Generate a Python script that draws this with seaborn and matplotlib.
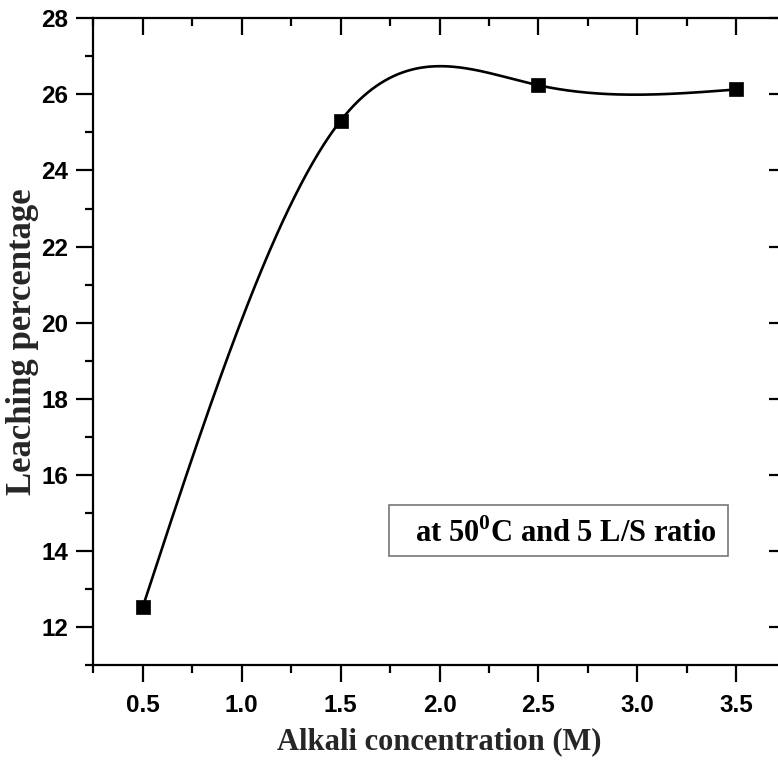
import numpy as np
import pandas as pd
import matplotlib
matplotlib.use("Agg")
import matplotlib.pyplot as plt
from matplotlib.patches import Rectangle
from matplotlib.ticker import MultipleLocator
import seaborn as sns

# Data
concentration = [0.5, 1.5, 2.5, 3.5]
leaching = [12.53, 25.31, 26.24, 26.13]
x_ticks = [0.5, 1.0, 1.5, 2.0, 2.5, 3.0, 3.5]
y_ticks = [12, 14, 16, 18, 20, 22, 24, 26, 28]
x_label = "Alkali concentration (M)"
y_label = "Leaching percentage"
note = r"at 50$^{\mathbf{0}}$C and 5 L/S ratio"

sns.set_theme(style="white")
plt.rcParams["font.family"] = ["Liberation Sans", "DejaVu Sans"]
plt.rcParams["mathtext.fontset"] = "custom"
plt.rcParams["mathtext.rm"] = "Liberation Serif:bold"
plt.rcParams["mathtext.bf"] = "Liberation Serif:bold"


def natural_spline(x, y, n=400):
    x = np.asarray(x, float)
    y = np.asarray(y, float)
    k = len(x)
    h = np.diff(x)
    A = np.zeros((k, k))
    b = np.zeros(k)
    A[0, 0] = 1
    A[-1, -1] = 1
    for i in range(1, k - 1):
        A[i, i - 1] = h[i - 1]
        A[i, i] = 2 * (h[i - 1] + h[i])
        A[i, i + 1] = h[i]
        b[i] = 6 * ((y[i + 1] - y[i]) / h[i] - (y[i] - y[i - 1]) / h[i - 1])
    M = np.linalg.solve(A, b)
    xs = np.linspace(x[0], x[-1], n)
    idx = np.clip(np.searchsorted(x, xs) - 1, 0, k - 2)
    x0, x1 = x[idx], x[idx + 1]
    hh = x1 - x0
    t1 = x1 - xs
    t0 = xs - x0
    ys = (M[idx] * t1 ** 3 / (6 * hh) + M[idx + 1] * t0 ** 3 / (6 * hh)
          + (y[idx] / hh - M[idx] * hh / 6) * t1
          + (y[idx + 1] / hh - M[idx + 1] * hh / 6) * t0)
    return xs, ys


fig = plt.figure(figsize=(7.78, 7.73), dpi=100)
ax = fig.add_axes([0.12, 0.1397, 0.890, 0.8366])

xs, ys = natural_spline(concentration, leaching)
curve = pd.DataFrame({"x": xs, "y": ys})
points = pd.DataFrame({"x": concentration, "y": leaching})

sns.lineplot(data=curve, x="x", y="y", ax=ax, color="black", linewidth=1.9, sort=False)
sns.scatterplot(data=points, x="x", y="y", ax=ax, color="black", marker="s",
                s=95, edgecolor="black", linewidth=0.5, zorder=5)

ax.set_xlim(0.25, 3.75)
ax.set_ylim(11, 28)
ax.set_xticks(x_ticks)
ax.set_xticklabels([f"{v:.1f}" for v in x_ticks])
ax.set_yticks(y_ticks)
ax.set_yticklabels([str(v) for v in y_ticks])
ax.xaxis.set_minor_locator(MultipleLocator(0.25))
ax.yaxis.set_minor_locator(MultipleLocator(1))

for sp in ax.spines.values():
    sp.set_color("black")
    sp.set_linewidth(1.6)

ax.tick_params(axis="both", which="major", length=12, width=1.6, color="black",
               labelsize=17.5, labelcolor="black")
ax.tick_params(axis="both", which="minor", length=6, width=1.6, color="black")
ax.tick_params(axis="x", which="both", direction="out", bottom=True, top=True, pad=9)
ax.tick_params(axis="y", which="both", direction="out", left=True, right=True, pad=6)
# top and right ticks point inward
for t in ax.xaxis.get_major_ticks() + ax.xaxis.get_minor_ticks():
    t.tick2line.set_marker(matplotlib.lines.TICKDOWN)
for t in ax.yaxis.get_major_ticks() + ax.yaxis.get_minor_ticks():
    t.tick2line.set_marker(matplotlib.lines.TICKLEFT)
for lab in ax.get_xticklabels() + ax.get_yticklabels():
    lab.set_fontweight("bold")

ax.set_xlabel(x_label, fontsize=22, fontweight="bold", family="Liberation Serif", labelpad=7)
ax.set_ylabel(y_label, fontsize=25, fontweight="bold", family="Liberation Serif", labelpad=1.5)

ax.add_patch(Rectangle((1.746, 13.86), 1.712, 1.34, fill=False, edgecolor="#777777",
                       linewidth=1.2, zorder=4))
ax.text(2.64, 14.45, note, fontsize=22, fontweight="bold", family="Liberation Serif",
        ha="center", va="center", color="black", zorder=6)

fig.savefig("out.png", dpi=100)
